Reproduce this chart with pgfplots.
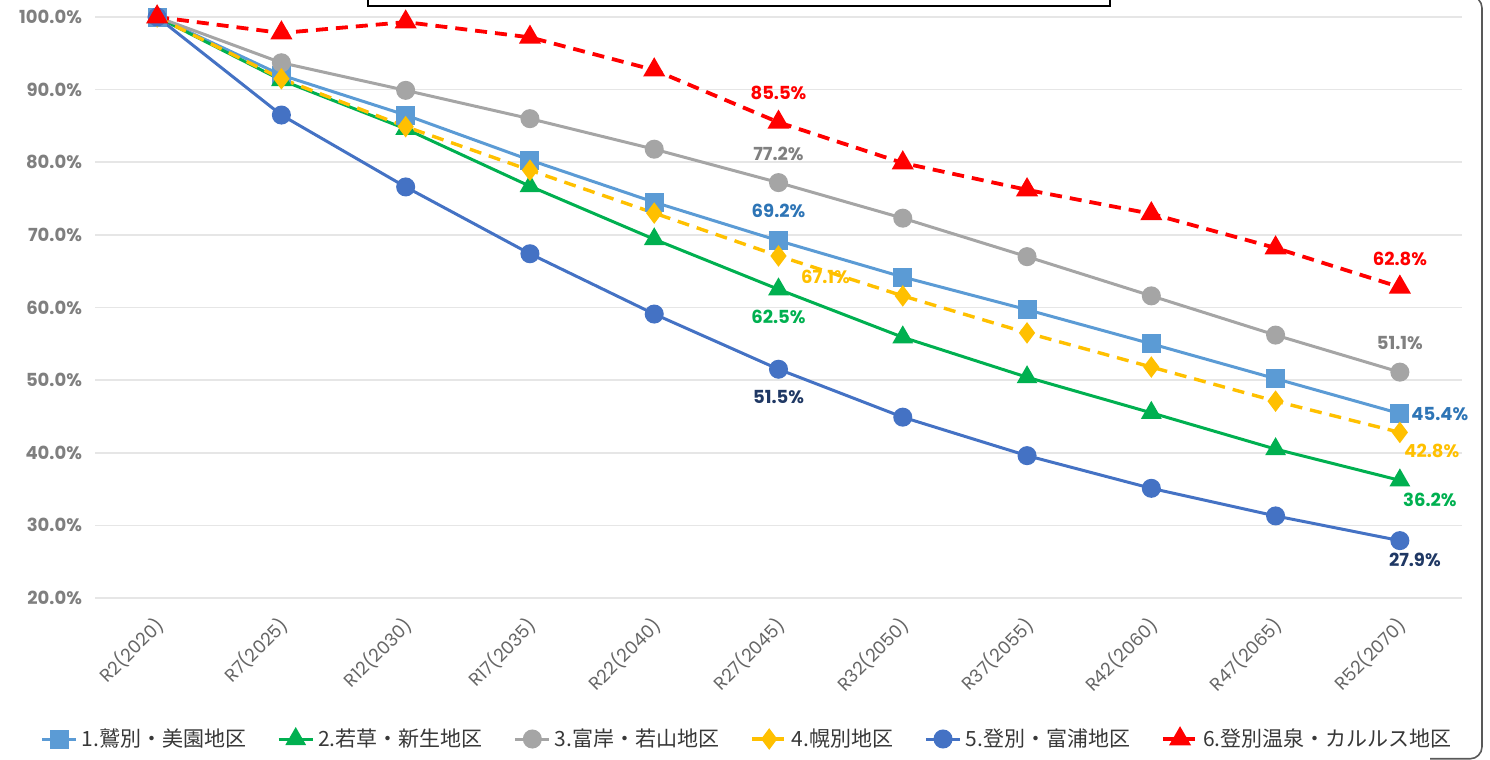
\documentclass[border=0pt]{standalone}
\usepackage{fontspec}
\setmainfont{Poppins}
\newfontfamily\cjk{Noto Sans CJK JP}
\usepackage{pgfplots}
\pgfplotsset{compat=1.18}
\definecolor{cA}{HTML}{5B9BD5}
\definecolor{cB}{HTML}{00B050}
\definecolor{cC}{HTML}{A5A5A5}
\definecolor{cD}{HTML}{FFC000}
\definecolor{cE}{HTML}{4472C4}
\definecolor{cF}{HTML}{FF0000}
\definecolor{tA}{HTML}{2E75B6}
\definecolor{tC}{HTML}{808080}
\definecolor{tE}{HTML}{1F3864}
\definecolor{tickc}{HTML}{7F7F7F}
\definecolor{gridc}{HTML}{E6E6E6}
\newcommand\lbl[5]{\node[font=\fontsize{9}{10}\selectfont\bfseries, text=#4, inner sep=0pt] at ([shift={(#5)}]axis cs:#1,#2) {#3};}
\begin{document}
\begin{tikzpicture}
\useasboundingbox (0,0) rectangle (745pt,380pt);
\draw[black!65, line width=0.8pt, rounded corners=6pt] (715pt,382pt) -- (741pt,382pt) -- (741pt,0.6pt) -- (715pt,0.6pt);
\draw[black, line width=1pt] (184pt,377pt) rectangle (555pt,385pt);
\begin{axis}[
  at={(47.5pt,81pt)}, anchor=south west,
  scale only axis, width=683.5pt, height=290.5pt,
  xmin=-0.5, xmax=10.5, ymin=20, ymax=100,
  axis line style={draw=none},
  tick style={draw=none},
  major tick length=0pt,
  xmajorgrids=false,
  ymajorgrids=true, grid style={draw=gridc, line width=0.8pt},
  ytick={20,30,40,50,60,70,80,90,100},
  yticklabels={20.0\%,30.0\%,40.0\%,50.0\%,60.0\%,70.0\%,80.0\%,90.0\%,100.0\%},
  yticklabel style={font=\fontsize{9}{10}\selectfont\bfseries, text=tickc, xshift=-3pt},
  xtick={0,...,10},
  xticklabels={R2(2020),R7(2025),R12(2030),R17(2035),R22(2040),R27(2045),R32(2050),R37(2055),R42(2060),R47(2065),R52(2070)},
  xticklabel style={font=\fontsize{9}{10}\selectfont, text=black!60, xshift=4pt, yshift=-9.5pt, rotate=45, anchor=east},
  legend columns=6,
  legend style={at={(0.4777,-0.2427)}, anchor=center, draw=none, fill=none,
    font=\cjk\fontsize{10.5}{12}\selectfont, text=black!78,
    /tikz/every even column/.append style={column sep=13.5pt},
    inner sep=0pt},
  legend cell align=left,
  clip=false,
]
\addplot[cA, line width=1.5pt, mark=square*, mark size=4pt, mark options={solid}] coordinates {
(0,100) (1,92.0) (2,86.5) (3,80.3) (4,74.5) (5,69.2) (6,64.2) (7,59.7) (8,55.0) (9,50.2) (10,45.4)};
\addlegendentry{1.鷲別・美園地区}
\addplot[cB, line width=1.5pt, mark=triangle*, mark size=4.5pt, mark options={solid}] coordinates {
(0,100) (1,91.3) (2,84.6) (3,76.7) (4,69.4) (5,62.5) (6,55.9) (7,50.4) (8,45.5) (9,40.5) (10,36.2)};
\addlegendentry{2.若草・新生地区}
\addplot[cC, line width=1.5pt, mark=*, mark size=4pt, mark options={solid}] coordinates {
(0,100) (1,93.7) (2,89.9) (3,86.0) (4,81.8) (5,77.2) (6,72.3) (7,67.0) (8,61.6) (9,56.2) (10,51.1)};
\addlegendentry{3.富岸・若山地区}
\addplot[cD, line width=1.7pt, dash pattern=on 6pt off 4pt, mark=diamond*, mark size=4pt, mark options={solid}] coordinates {
(0,100) (1,91.5) (2,84.9) (3,78.9) (4,73.0) (5,67.1) (6,61.6) (7,56.5) (8,51.8) (9,47.1) (10,42.8)};
\addlegendentry{4.幌別地区}
\addplot[cE, line width=1.5pt, mark=*, mark size=4pt, mark options={solid}] coordinates {
(0,100) (1,86.5) (2,76.6) (3,67.4) (4,59.1) (5,51.5) (6,44.9) (7,39.6) (8,35.1) (9,31.3) (10,27.9)};
\addlegendentry{5.登別・富浦地区}
\addplot[cF, line width=1.9pt, dash pattern=on 6pt off 4pt, mark=triangle*, mark size=4.5pt, mark options={solid}] coordinates {
(0,100) (1,97.8) (2,99.3) (3,97.2) (4,92.7) (5,85.5) (6,79.9) (7,76.2) (8,72.9) (9,68.2) (10,62.8)};
\addlegendentry{6.登別温泉・カルルス地区}
\lbl{5}{85.5}{85.5\%}{cF}{0pt,14.5pt}
\lbl{10}{62.8}{62.8\%}{cF}{0pt,14pt}
\lbl{5}{77.2}{77.2\%}{tC}{0pt,14.5pt}
\lbl{10}{51.1}{51.1\%}{tC}{0pt,14.5pt}
\lbl{5}{69.2}{69.2\%}{tA}{0pt,15pt}
\lbl{10}{45.4}{45.4\%}{tA}{20pt,0pt}
\lbl{5}{67.1}{67.1\%}{cD}{23.5pt,-10.5pt}
\lbl{10}{42.8}{42.8\%}{cD}{16pt,-9pt}
\lbl{5}{62.5}{62.5\%}{cB}{0pt,-14pt}
\lbl{10}{36.2}{36.2\%}{cB}{15pt,-10pt}
\lbl{5}{51.5}{51.5\%}{tE}{0pt,-14pt}
\lbl{10}{27.9}{27.9\%}{tE}{7.5pt,-9.5pt}
\end{axis}
\end{tikzpicture}
\end{document}
